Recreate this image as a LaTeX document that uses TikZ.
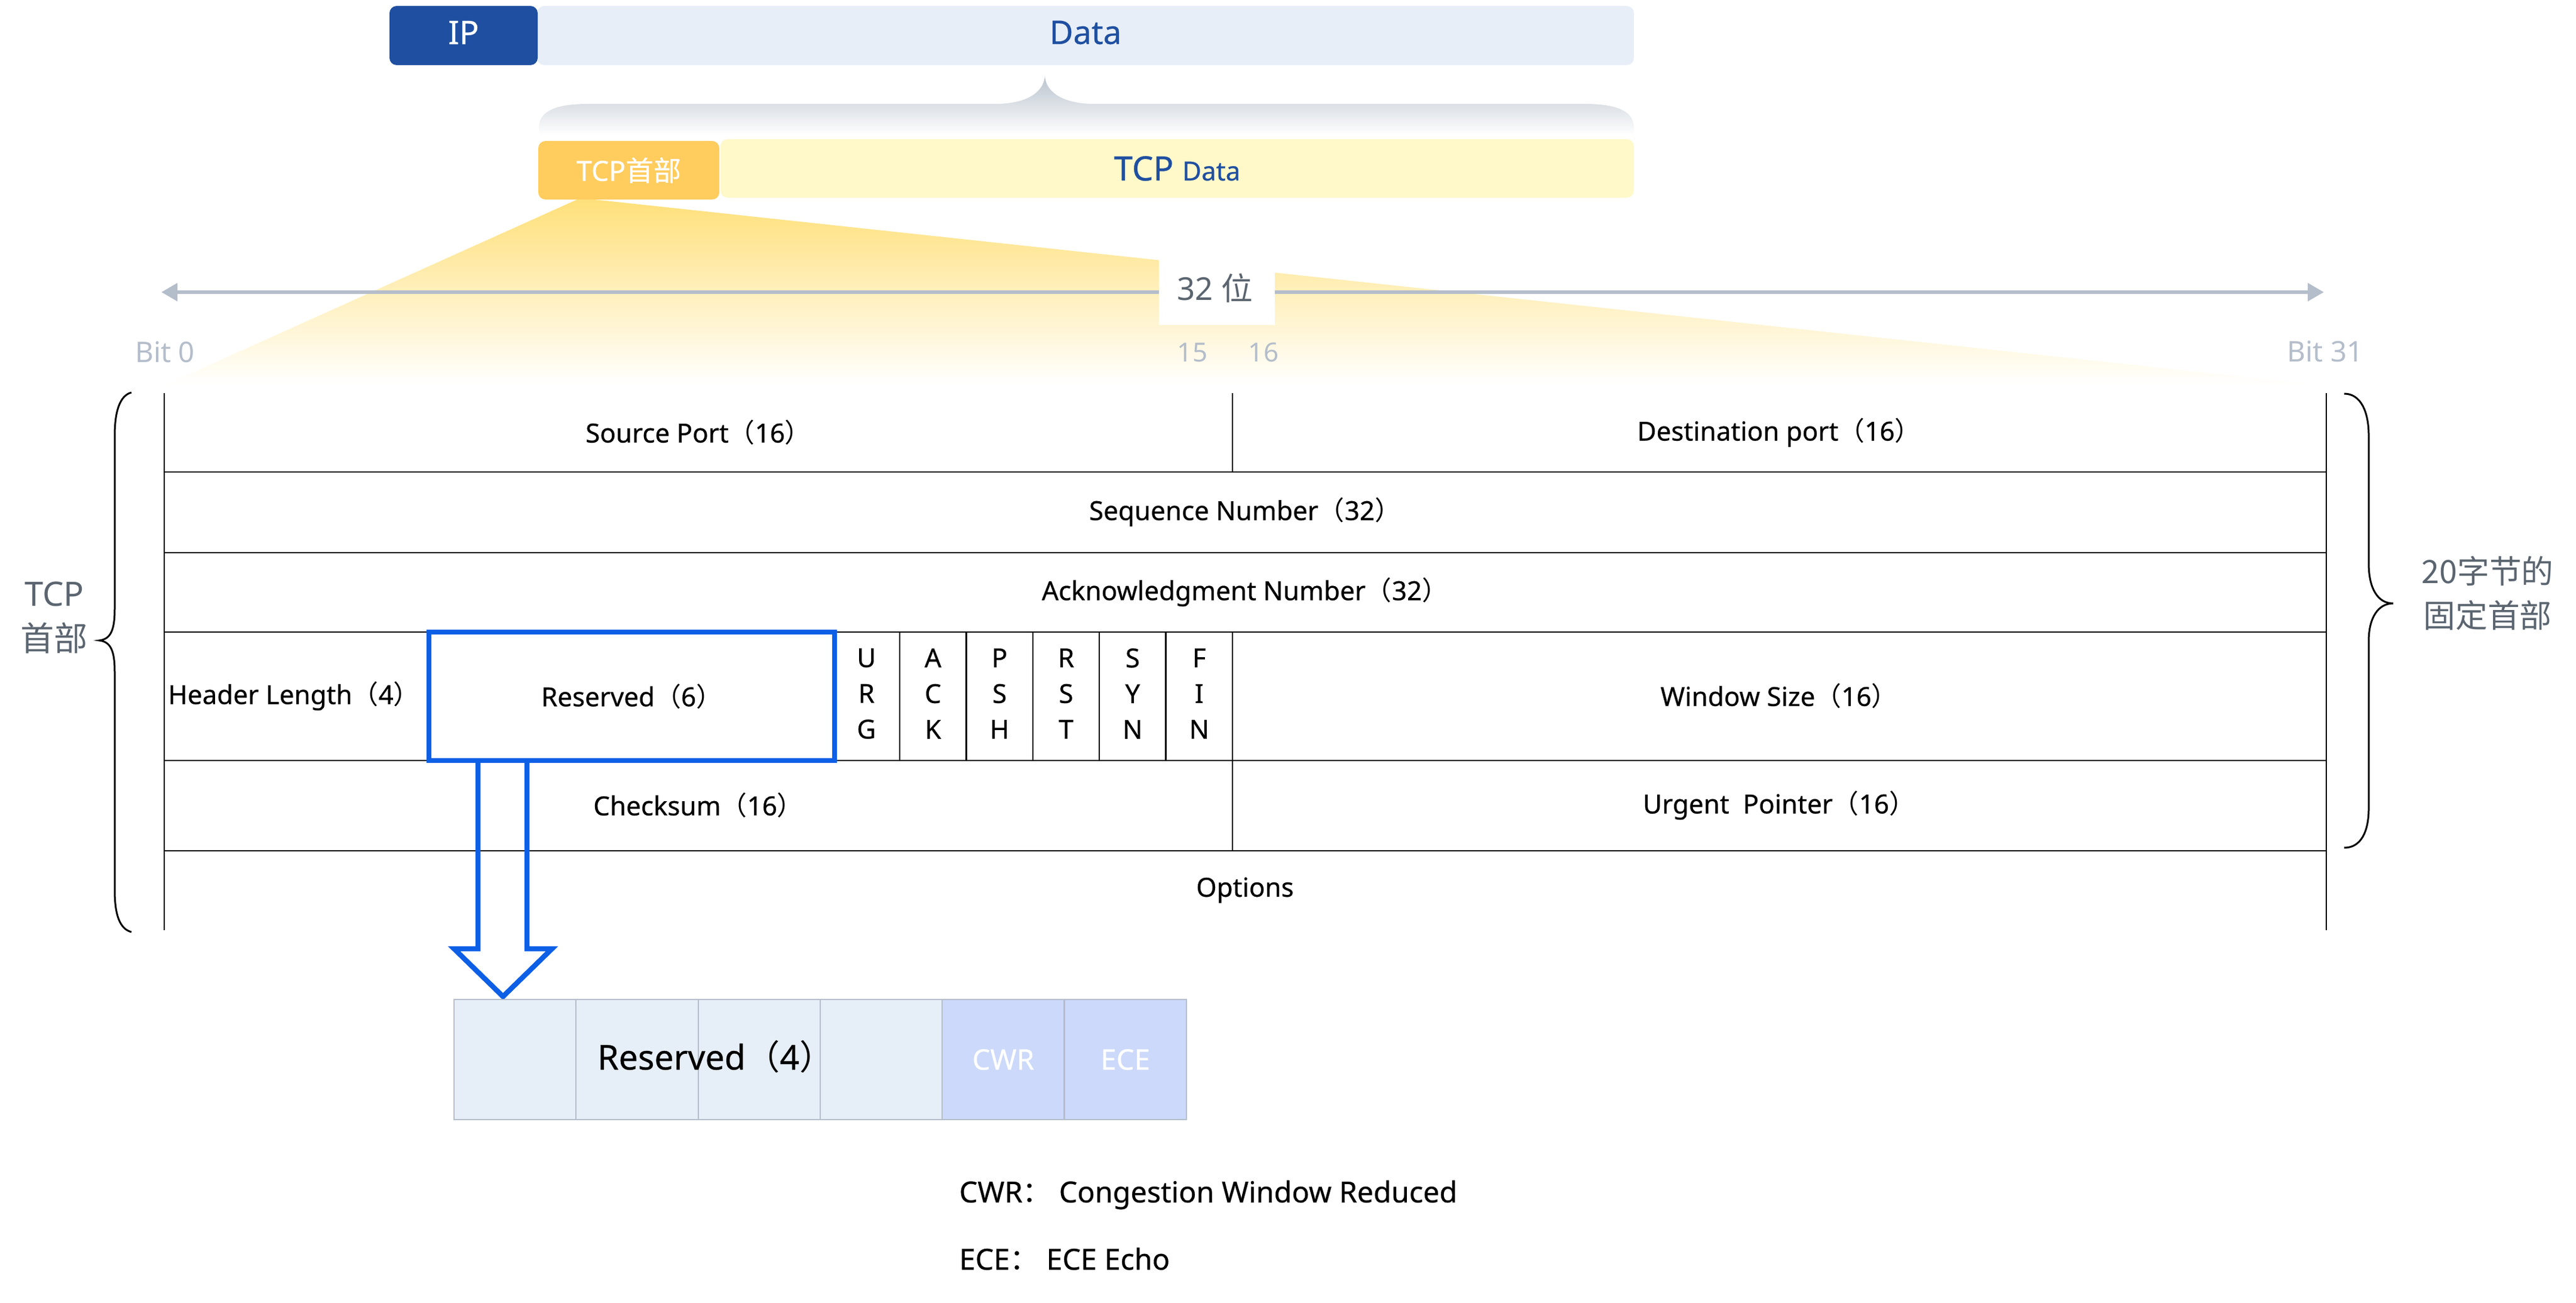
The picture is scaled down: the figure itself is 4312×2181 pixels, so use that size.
\documentclass[tikz,border=0pt]{standalone}
\usepackage{fontspec}
\setmainfont{Noto Sans}
\newfontfamily\cjk{Noto Sans CJK SC}
\newfontfamily\med{Noto Sans}[FakeBold=0.5]
\newfontfamily\cjkmed{Noto Sans CJK SC}[FakeBold=0.5]
\usetikzlibrary{calc, arrows.meta, positioning}
\definecolor{ipblue}{HTML}{1F4FA0}
\definecolor{datablue}{HTML}{E7EEF8}
\definecolor{hdrorange}{HTML}{FFCC5E}
\definecolor{tcpyellow}{HTML}{FFF8C9}
\definecolor{fanyellow}{HTML}{FFE07A}
\definecolor{bracegray}{HTML}{B9C2CD}
\definecolor{axisgray}{HTML}{B4BDCA}
\definecolor{notegray}{HTML}{5B6570}
\definecolor{hiblue}{HTML}{0D5FE6}
\definecolor{cellblue}{HTML}{E6EEF8}
\definecolor{flagblue}{HTML}{CCD9FA}
\newcommand{\lp}{{\cjk （}}
\newcommand{\rp}{{\cjk ）}}

\begin{document}
\begin{tikzpicture}[
    x=0.1mm, y=-0.1mm,
    box/.style={rounded corners=1.2mm, inner sep=0pt, minimum height=9.9mm},
    field/.style={font=\med\fontsize{12.5}{17}\selectfont, inner sep=0pt, align=center},
    bit label/.style={font=\fontsize{13.5}{16}\selectfont, text=axisgray, inner sep=0pt},
    grid/.style={line width=0.25mm, black},
    curly/.style={line width=0.3mm, black},
    side note/.style={font=\fontsize{15.5}{21}\selectfont, text=notegray, align=center, inner sep=0pt},
    axis/.style={{Triangle[length=2.7mm, width=2.9mm]}-{Triangle[length=2.7mm, width=2.9mm]}, line width=0.65mm, axisgray},
    hilite/.style={hiblue, line width=0.85mm},
    minicell/.style={draw=axisgray, line width=0.22mm, minimum width=20.43mm, minimum height=20.1mm, inner sep=0pt},
    legend/.style={font=\med\fontsize{13.8}{16}\selectfont, anchor=west, inner sep=0pt}
]
\useasboundingbox (0,0) rectangle (4312,2181);

% IP packet
\node[box, fill=datablue, minimum width=183.6mm] (data) at (1817,59.5) {};
\node[box, fill=ipblue, minimum width=24.8mm] (ip) at (776,59.5) {};
\node[text=ipblue, font=\med\fontsize{15.5}{18}\selectfont] at ([yshift=0.5mm]data) {Data};
\node[text=white, font=\med\fontsize{15.5}{18}\selectfont] at ([yshift=0.5mm]ip) {IP};

% Brace under Data
\shade[top color=bracegray, bottom color=white] (902,226) -- (902,214) .. controls (902,186) and (930,174) .. (984,174) -- (1665,174) .. controls (1722,174) and (1749,152) .. (1749,125) .. controls (1749,152) and (1776,174) .. (1833,174) -- (2653,174) .. controls (2707,174) and (2735,186) .. (2735,214) -- (2735,226) -- cycle;

% TCP segment
\node[box, fill=tcpyellow, minimum width=152.9mm, minimum height=9.8mm, text=ipblue] (tcpdata) at (1970.5,282) {\med\fontsize{16}{18}\selectfont TCP \fontsize{12.5}{18}\selectfont Data};
\node[box, fill=hdrorange, minimum width=30.3mm, minimum height=9.8mm, text=white, font=\med\fontsize{13.2}{16}\selectfont] (tcphdr) at (1052.5,285) {TCP{\cjkmed 首部}};

% Fan from the header box
\shade[top color=fanyellow, bottom color=white] (966,334) -- (995,334) -- (3890,645) -- (275,645) -- cycle;

% Bit axis
\coordinate (axisL) at (270,489);
\coordinate (axisR) at (3890,489);
\draw[axis] (axisL) -- (axisR);
\node[fill=white, minimum width=19.4mm, minimum height=10.9mm, inner sep=0pt] (width) at (2037,489.5) {};
\node[text=notegray, font=\fontsize{15}{18}\selectfont, inner sep=0pt] (widthtext) at (2034,482) {32 {\cjk 位}};
\node[bit label] (bit0) at (276,589) {Bit 0};
\node[bit label] (bit31) at (3892,588) {Bit 31};
\node[bit label, font=\fontsize{12.5}{15}\selectfont] (bit15) at (1996,590) {15};
\node[bit label, font=\fontsize{12.5}{15}\selectfont] (bit16) at (2115,590) {16};

% Header grid
\draw[grid] (275,658) -- (275,1557);
\draw[grid] (3894,658) -- (3894,1557);
\foreach \y in {790,925,1058,1273,1424}
    \draw[grid] (275,\y) -- (3894,\y);
\draw[grid] (2063,658) -- (2063,790);
\draw[grid] (2063,1058) -- (2063,1424);
\foreach \k in {1,...,5}
    \draw[grid] ({1394.6+111.4*\k},1058) -- ({1394.6+111.4*\k},1273);

% Fields
\node[field] (src) at (1169,724) {Source Port\lp16\rp};
\node[field] (dst) at (2978,724) {Destination port\lp16\rp};
\node[field] (seq) at (2084,857) {Sequence Number\lp32\rp};
\node[field] (ack) at (2084,991) {Acknowledgment Number\lp32\rp};
\node[field] (hlen) at (492,1165) {Header Length\lp4\rp};
\node[field, draw=hiblue, line width=0.85mm, minimum width=67.9mm, minimum height=21.5mm] (rsv) at (1057.5,1165.5) {Reserved\lp6\rp};
\foreach \f [count=\k from 0] in {U\\R\\G, A\\C\\K, P\\S\\H, R\\S\\T, S\\Y\\N, F\\I\\N}
    \node[field] (flag\k) at ({1450.3+111.4*\k},1161) {\f};
\node[field] (win) at (2978,1165) {Window Size\lp16\rp};
\node[field] (csum) at (1169,1348) {Checksum\lp16\rp};
\node[field] (urgp) at (2978,1348) {Urgent\ \ Pointer\lp16\rp};
\node[field] (opt) at (2084,1490) {Options};

% Braces
\draw[curly] (220,657) .. controls (200,662) and (192,690) .. (192,730) -- (192,1020) .. controls (192,1055) and (185,1070) .. (166,1072) .. controls (185,1074) and (192,1089) .. (192,1124) -- (192,1490) .. controls (192,1530) and (200,1555) .. (220,1560);
\node[side note, font=\fontsize{16}{21.5}\selectfont] (tcpnote) at (91,1034) {TCP\\{\cjk 首部}};
\draw[curly] (3924,659) .. controls (3952,659) and (3965,690) .. (3965,729) -- (3965,943) .. controls (3965,985) and (3980,1010) .. (4006,1010) .. controls (3980,1010) and (3965,1035) .. (3965,1073) -- (3965,1353) .. controls (3965,1392) and (3952,1419) .. (3924,1419);
\node[side note, font=\cjk\fontsize{15.3}{20.8}\selectfont] (fixnote) at (4164,993) {20字节的\\固定首部};

% Zoom arrow
\draw[hilite, line join=miter] (800,1277) -- (800,1588) -- (760,1588) -- (842,1668) -- (924,1588) -- (882,1588) -- (882,1277);

% Reserved bits
\foreach \c [count=\k from 1] in {cellblue,cellblue,cellblue,cellblue,flagblue,flagblue}
    \node[minicell, fill=\c] (m\k) at ({760+204.3*(\k-0.5)},1773.5) {};
\node[font=\med\fontsize{16.3}{18}\selectfont, inner sep=0pt] (mrsv) at ([xshift=2.8mm, yshift=0.5mm]m2.east) {Reserved\lp4\rp};
\node[text=white, font=\med\fontsize{13.5}{16}\selectfont, inner sep=0pt] (mcwr) at (m5) {CWR};
\node[text=white, font=\med\fontsize{13.5}{16}\selectfont, inner sep=0pt] (mece) at (m6) {ECE};

% Legend
\node[legend] (cwrnote) at (1605,2000) {CWR{\cjk ：} Congestion Window Reduced};
\node[legend] (ecenote) at (1605,2107) {ECE{\cjk ：} ECE Echo};
\end{tikzpicture}
\end{document}
